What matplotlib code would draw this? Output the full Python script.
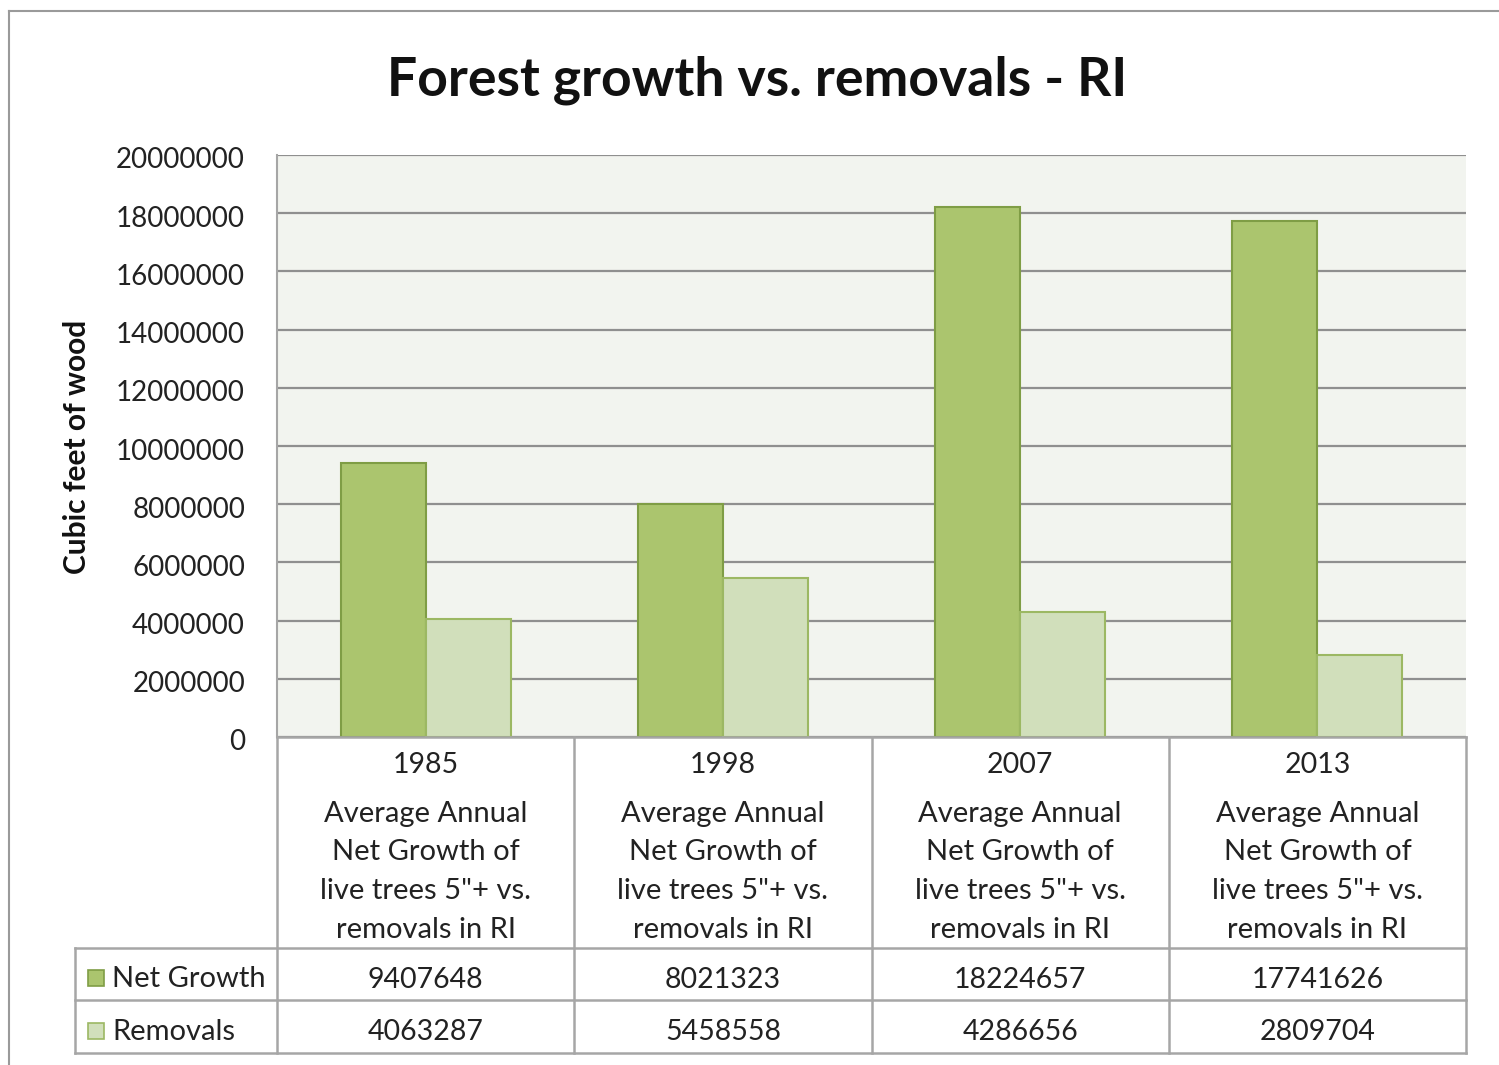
import matplotlib.pyplot as plt
import matplotlib.transforms as mtransforms
from matplotlib.lines import Line2D
from matplotlib.patches import Rectangle

plt.rcParams['font.family'] = ['Lato', 'DejaVu Sans']

years = ['1985', '1998', '2007', '2013']
cat_desc = 'Average Annual\nNet Growth of\nlive trees 5"+ vs.\nremovals in RI'
net_growth = [9407648, 8021323, 18224657, 17741626]
removals = [4063287, 5458558, 4286656, 2809704]
series_names = ['Net Growth', 'Removals']
yticks = list(range(0, 20000001, 2000000))

c_net = '#abc56e'
c_net_edge = '#7f9d45'
c_rem = '#d1dfbb'
c_rem_edge = '#9cb863'
grid_c = '#8f8f8f'
line_c = '#a6a6a6'
txt_c = '#222222'

W, H = 1499, 1065
fig = plt.figure(figsize=(W / 100, H / 100), dpi=100)


def fx(x):
    return x / W


def fy(y):
    return 1 - y / H


# outer chart border
fig.add_artist(Line2D([fx(9), fx(9)], [fy(11), fy(1065)], color='#9a9a9a', lw=1.5))
fig.add_artist(Line2D([fx(9), fx(1499)], [fy(11), fy(11)], color='#9a9a9a', lw=1.5))

L, R, T, B = 277, 1466, 155, 737
ax = fig.add_axes([fx(L), fy(B), (R - L) / W, (B - T) / H])
ax.set_facecolor('#f2f4ef')

x = list(range(len(years)))
bw = 0.286
ax.bar([i - bw / 2 for i in x], net_growth, width=bw, color=c_net,
       edgecolor=c_net_edge, linewidth=1.5, zorder=3)
ax.bar([i + bw / 2 for i in x], removals, width=bw, color=c_rem,
       edgecolor=c_rem_edge, linewidth=1.5, zorder=3)

ax.set_xlim(-0.5, len(years) - 0.5)
ax.set_ylim(0, 20000000)
ax.set_yticks(yticks)
ax.set_yticklabels([str(v) for v in yticks], fontsize=20, color=txt_c)
ax.set_xticks([])
ax.tick_params(axis='y', length=0, pad=23)
shift = mtransforms.ScaledTranslation(0, -3 / 100, fig.dpi_scale_trans)
for lab in ax.get_yticklabels():
    lab.set_transform(lab.get_transform() + shift)
ax.grid(axis='y', color=grid_c, lw=1.6, zorder=1)
for s in ['top', 'right', 'bottom']:
    ax.spines[s].set_visible(False)
ax.spines['left'].set_color(line_c)
ax.spines['left'].set_linewidth(1.5)

fig.text(fx(77), fy(447), 'Cubic feet of wood', fontsize=21.5, fontweight='bold',
         rotation=90, ha='center', va='center', color='#111111')

fig.text(fx(757), fy(80), 'Forest growth vs. removals - RI', fontsize=38.5,
         fontweight='bold', ha='center', va='center', color='#111111')

# data table under the axis
col_edges = [L + i * (R - L) / len(years) for i in range(len(years) + 1)]
rows_y = [948, 1000, 1053]
lw = 1.8
fig.add_artist(Line2D([fx(L), fx(R)], [fy(B), fy(B)], color=line_c, lw=lw))
for xe in col_edges:
    fig.add_artist(Line2D([fx(xe), fx(xe)], [fy(B), fy(1053)], color=line_c, lw=lw))
fig.add_artist(Line2D([fx(75), fx(75)], [fy(948), fy(1053)], color=line_c, lw=lw))
for yr in rows_y:
    fig.add_artist(Line2D([fx(75), fx(R)], [fy(yr), fy(yr)], color=line_c, lw=lw))

for i, yr in enumerate(years):
    cx = (col_edges[i] + col_edges[i + 1]) / 2
    fig.text(fx(cx), fy(765), yr, fontsize=20.5, ha='center', va='center', color=txt_c)
    for j, line in enumerate(cat_desc.split('\n')):
        fig.text(fx(cx), fy(814 + j * 38.5), line, fontsize=21, ha='center',
                 va='center', color=txt_c)
    fig.text(fx(cx), fy(980), str(net_growth[i]), fontsize=20.5, ha='center',
             va='center', color=txt_c)
    fig.text(fx(cx), fy(1032), str(removals[i]), fontsize=20.5, ha='center',
             va='center', color=txt_c)

for k, (name, fc, ec) in enumerate(zip(series_names, [c_net, c_rem], [c_net_edge, c_rem_edge])):
    yc = 978 + k * 53
    fig.add_artist(Rectangle((fx(88), fy(yc + 8)), 16 / W, 16 / H, facecolor=fc,
                             edgecolor=ec, lw=1.2))
    fig.text(fx(112), fy(yc + 1), name, fontsize=21, ha='left', va='center', color=txt_c)

fig.savefig('out.png', dpi=100)
